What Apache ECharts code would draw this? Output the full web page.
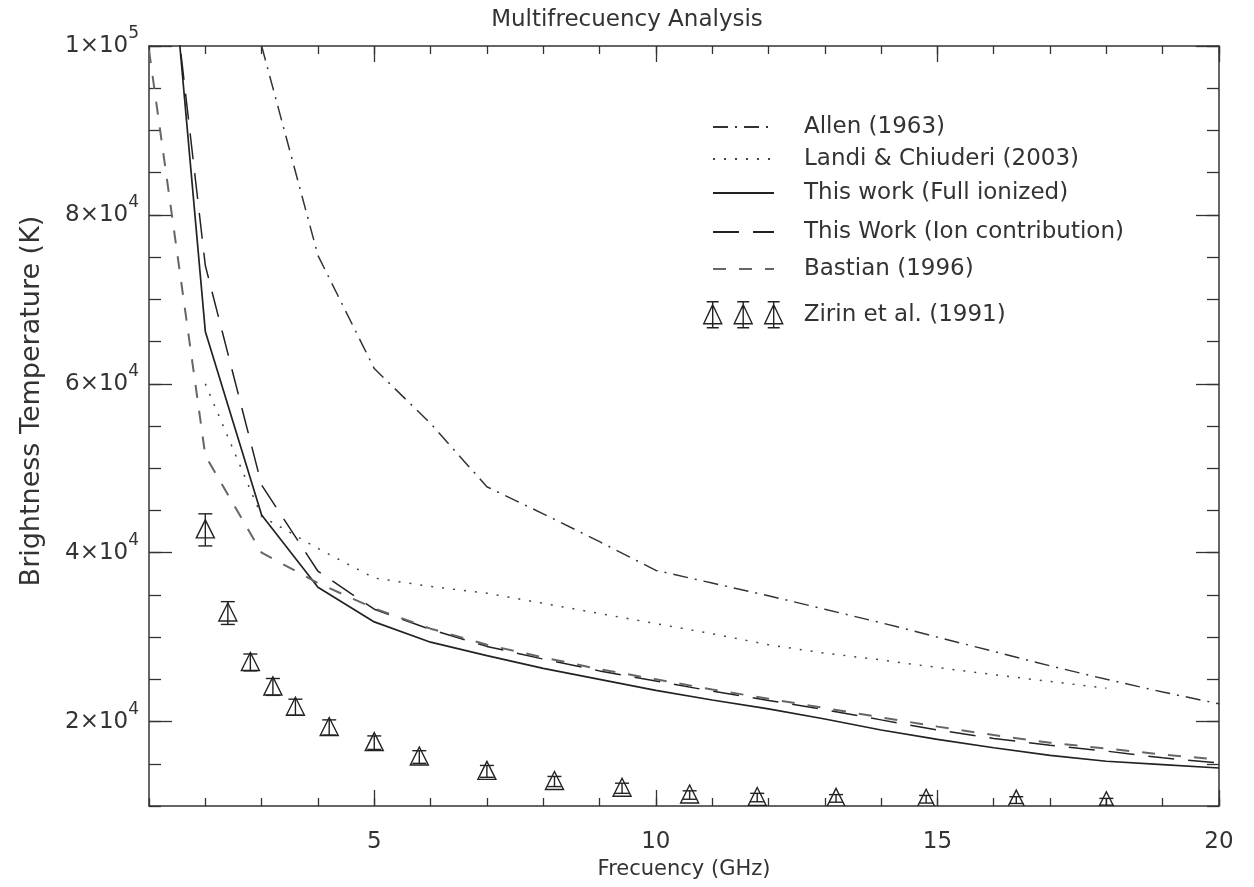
<!DOCTYPE html>
<html>
<head>
<meta charset="utf-8">
<script src="https://cdn.jsdelivr.net/npm/echarts@6/dist/echarts.min.js"></script>
<style>html,body{margin:0;padding:0;background:#fff}#c{width:1254px;height:887px}</style>
</head>
<body>
<div id="c"></div>
<script>
// ---------------- data ----------------
const freqAll = [1,2,3,4,5,6,7,8,9,10,11,12,13,14,15,16,17,18,19,20];
const fullIonized = [141000,66200,44450,35900,31800,29400,27800,26300,25000,23700,22550,21500,20300,19000,17900,16900,16000,15300,14900,14500];
const ionContribution = [132000,74000,48000,37800,33300,30900,28900,27400,26000,24800,23600,22500,21400,20200,19000,18000,17200,16500,15700,15100];
const bastian = [99500,51500,40000,36400,33400,31000,29100,27600,26200,25000,23800,22700,21600,20500,19400,18400,17500,16800,16100,15500];

const allenFreq = [3,4,5,6,7,8,9,10,11,12,13,14,15,16,17,18,19,20];
const allen = [100000,75200,61800,55300,47800,44600,41300,37900,36400,34900,33300,31700,30000,28300,26600,25000,23500,22100];

const landiFreq = [2,3,4,5,6,7,8,9,10,11,12,13,14,15,16,17,18];
const landi = [60000,44300,40500,37000,36000,35200,34000,32800,31600,30400,29100,28100,27300,26400,25550,24750,23950];

const zirinFreq = [2.0,2.4,2.8,3.2,3.6,4.2,5.0,5.8,7.0,8.2,9.4,10.6,11.8,13.2,14.8,16.4,18.0];
const zirinT   = [42700,32850,27000,24100,21700,19300,17500,15800,14100,12900,12100,11300,11000,10900,10800,10700,10500];
const zirinErr = [1900,1350,1000,1000,950,900,800,750,700,600,600,500,500,450,450,400,400];

const xMajorTicks = [5,10,15,20];
const yMajorTicks = [20000,40000,60000,80000,100000];

const names = {
  allen: 'Allen (1963)',
  landi: 'Landi & Chiuderi (2003)',
  full: 'This work (Full ionized)',
  ion: 'This Work (Ion contribution)',
  bastian: 'Bastian (1996)',
  zirin: 'Zirin et al. (1991)'
};

// ---------------- helpers ----------------
const FONT = 'DejaVu Sans';
const INK = '#333';
const pairs = (xs, ys) => xs.map((x, i) => [x, ys[i]]);
const zirinData = zirinFreq.map((x, i) => [x, zirinT[i], zirinErr[i]]);

const axisBase = (extra) => Object.assign({
  type: 'value',
  axisLine: { show: true, onZero: false, lineStyle: { color: INK, width: 1.5 } },
  splitLine: { show: false },
  axisLabel: { show: false }
}, extra);

const supFormatter = (v) => {
  const e = Math.floor(Math.log10(v) + 1e-9);
  const m = Math.round(v / Math.pow(10, e));
  return '{b|' + m + '×10}{s|' + e + '}';
};

const lineSeries = (name, data, lineStyle) => ({
  name, type: 'line', data, symbol: 'none', clip: true,
  xAxisIndex: 0, yAxisIndex: 0,
  lineStyle: Object.assign({ color: '#222', width: 1.5 }, lineStyle),
  itemStyle: { color: lineStyle.color || '#222' },
  emphasis: { disabled: true }, silent: true, animation: false
});

const legendText = (pad) => ({ fontFamily: FONT, fontSize: 23, color: INK, padding: [0, 0, 0, pad], lineHeight: 26 });
const mkLegend = (name, top) => ({
  data: [name], top, left: 712, itemWidth: 61, itemHeight: 14, orient: 'vertical',
  selectedMode: false, textStyle: legendText(25), padding: 0, itemGap: 0,
  itemStyle: { opacity: 0 }
});

const zirinIcon = 'path://' +
  'M3,0L15,0M9,0L9,26M3,26L15,26M9,3L18,22L0,22Z' +
  'M33.5,0L45.5,0M39.5,0L39.5,26M33.5,26L45.5,26M39.5,3L48.5,22L30.5,22Z' +
  'M64,0L76,0M70,0L70,26M64,26L76,26M70,3L79,22L61,22Z';

const option = {
  backgroundColor: '#fff',
  animation: false,
  title: {
    text: 'Multifrecuency Analysis', left: 'center', top: 4,
    textStyle: { fontFamily: FONT, fontSize: 23, fontWeight: 'normal', color: INK }
  },
  grid: { left: 149, right: 35, top: 46, bottom: 81, containLabel: false },
  xAxis: [
    axisBase({ min: 1, max: 20, interval: 1, position: 'bottom',
      axisTick: { inside: true, length: 8, lineStyle: { color: INK, width: 1.3 } } }),
    axisBase({ min: 1, max: 20, position: 'bottom',
      axisLine: { show: false, onZero: false },
      axisTick: { inside: true, length: 16, customValues: xMajorTicks, lineStyle: { color: INK, width: 1.3 } },
      axisLabel: { show: true, customValues: xMajorTicks, margin: 25, fontFamily: FONT, fontSize: 23, color: INK },
      name: 'Frecuency (GHz)', nameLocation: 'middle', nameGap: 53,
      nameTextStyle: { fontFamily: FONT, fontSize: 21, color: INK } }),
    axisBase({ min: 1, max: 20, interval: 1, position: 'top',
      axisTick: { inside: true, length: 8, lineStyle: { color: INK, width: 1.3 } } }),
    axisBase({ min: 1, max: 20, position: 'top',
      axisLine: { show: false, onZero: false },
      axisTick: { inside: true, length: 16, customValues: xMajorTicks, lineStyle: { color: INK, width: 1.3 } } })
  ],
  yAxis: [
    axisBase({ min: 10000, max: 100000, interval: 5000, position: 'left',
      axisTick: { inside: true, length: 12, lineStyle: { color: INK, width: 1.3 } } }),
    axisBase({ min: 10000, max: 100000, position: 'left',
      axisLine: { show: false, onZero: false },
      axisTick: { inside: true, length: 23, customValues: yMajorTicks, lineStyle: { color: INK, width: 1.3 } },
      axisLabel: { show: true, customValues: yMajorTicks, margin: 10, formatter: supFormatter,
        rich: {
          b: { fontFamily: FONT, fontSize: 23, color: INK },
          s: { fontFamily: FONT, fontSize: 17, color: INK, padding: [0, 0, 24, 0] }
        } },
      name: 'Brightness Temperature (K)', nameLocation: 'middle', nameGap: 104,
      nameTextStyle: { fontFamily: FONT, fontSize: 27, color: INK, padding: [0, 0, 0, 50] } }),
    axisBase({ min: 10000, max: 100000, interval: 5000, position: 'right',
      axisTick: { inside: true, length: 12, lineStyle: { color: INK, width: 1.3 } } }),
    axisBase({ min: 10000, max: 100000, position: 'right',
      axisLine: { show: false, onZero: false },
      axisTick: { inside: true, length: 23, customValues: yMajorTicks, lineStyle: { color: INK, width: 1.3 } } })
  ],
  legend: [
    mkLegend(names.allen, 114),
    mkLegend(names.landi, 146),
    mkLegend(names.full, 180),
    mkLegend(names.ion, 219),
    mkLegend(names.bastian, 256),
    {
      data: [{ name: names.zirin, icon: zirinIcon,
        itemStyle: { color: 'rgba(0,0,0,0)', borderColor: '#222', borderWidth: 1.4 } }],
      top: 301, left: 703, itemWidth: 79, itemHeight: 26, orient: 'vertical',
      selectedMode: false, textStyle: legendText(16), padding: 0
    }
  ],
  series: [
    lineSeries(names.allen, pairs(allenFreq, allen), { color: '#333', type: [15, 7, 2, 7] }),
    lineSeries(names.landi, pairs(landiFreq, landi), { color: '#444', type: [2, 9] }),
    lineSeries(names.full, pairs(freqAll, fullIonized), { color: '#222', type: 'solid', width: 1.7 }),
    lineSeries(names.ion, pairs(freqAll, ionContribution), { color: '#222', type: [26, 14] }),
    lineSeries(names.bastian, pairs(freqAll, bastian), { color: '#666', type: [13, 13], width: 2 }),
    {
      name: names.zirin, type: 'custom', clip: true, xAxisIndex: 0, yAxisIndex: 0,
      data: zirinData, silent: true, itemStyle: { color: '#222' },
      renderItem: (params, api) => {
        const x = api.value(0), y = api.value(1), e = api.value(2);
        const c = api.coord([x, y]);
        const t = api.coord([x, y + e]);
        const b = api.coord([x, y - e]);
        const st = { stroke: '#222', lineWidth: 1.4, fill: null };
        return { type: 'group', children: [
          { type: 'polygon', shape: { points: [[c[0], c[1] - 10], [c[0] + 9, c[1] + 8], [c[0] - 9, c[1] + 8]] },
            style: { stroke: '#222', lineWidth: 1.4, fill: 'rgba(0,0,0,0)' } },
          { type: 'line', shape: { x1: c[0], y1: t[1], x2: c[0], y2: b[1] }, style: st },
          { type: 'line', shape: { x1: c[0] - 7, y1: t[1], x2: c[0] + 7, y2: t[1] }, style: st },
          { type: 'line', shape: { x1: c[0] - 7, y1: b[1], x2: c[0] + 7, y2: b[1] }, style: st }
        ] };
      }
    }
  ]
};

const chart = echarts.init(document.getElementById('c'), null, { renderer: 'canvas' });
chart.setOption(option);
</script>
</body>
</html>
